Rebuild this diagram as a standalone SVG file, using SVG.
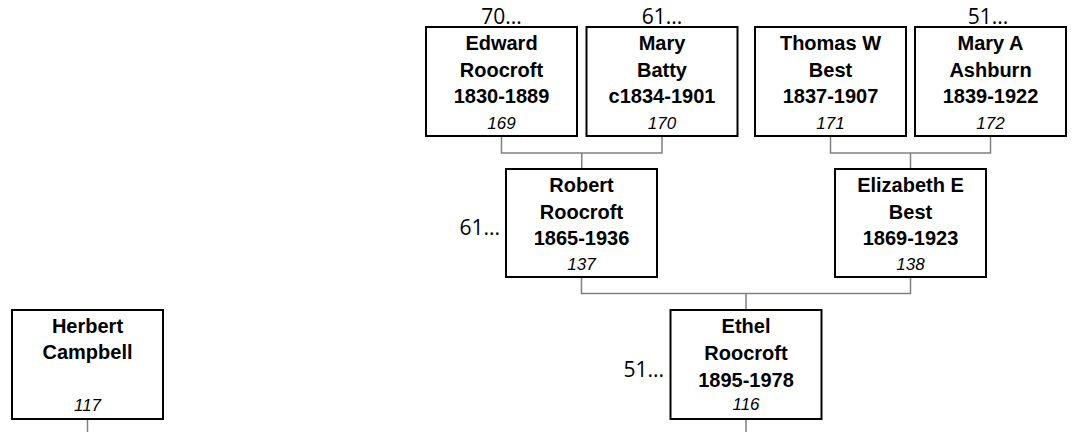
<svg xmlns="http://www.w3.org/2000/svg" width="1073" height="432" viewBox="0 0 1073 432">
<style>
.box{fill:#fff;stroke:#000;stroke-width:2}
.nm{font-family:"Liberation Sans",Arial,sans-serif;font-weight:bold;font-size:20px;text-anchor:middle;fill:#000}
.id{font-family:"Liberation Sans",Arial,sans-serif;font-style:italic;font-size:17px;text-anchor:middle;fill:#000}
.more{font-family:"Open Sans","Liberation Sans",sans-serif;font-size:21px;fill:#000}
.conn{fill:none;stroke:#808080;stroke-width:1.5}
</style>
<rect width="1073" height="432" fill="#fff"/>
<g id="connectors" class="conn">
<path d="M501.5 136V153H662V136M581.75 153V169"/>
<path d="M830.5 136V153H990.5V136M910.5 153V169"/>
<path d="M581.5 277V293.5H910.5V277M746 293.5V310"/>
<path d="M746 419V432"/>
<path d="M87.5 419V432"/>
</g>
<g id="n169">
<rect class="box" x="426" y="27" width="151" height="109"/>
<text class="more" x="501.5" y="24" text-anchor="middle">70...</text>
<text class="nm" x="501.5" y="50">Edward</text>
<text class="nm" x="501.5" y="77">Roocroft</text>
<text class="nm" x="501.5" y="103">1830-1889</text>
<text class="id" x="501.5" y="128.5">169</text>
</g>
<g id="n170">
<rect class="box" x="586.5" y="27" width="151" height="109"/>
<text class="more" x="662" y="24" text-anchor="middle">61...</text>
<text class="nm" x="662" y="50">Mary</text>
<text class="nm" x="662" y="77">Batty</text>
<text class="nm" x="662" y="103">c1834-1901</text>
<text class="id" x="662" y="128.5">170</text>
</g>
<g id="n171">
<rect class="box" x="755" y="27" width="151" height="109"/>
<text class="nm" x="830.5" y="50">Thomas W</text>
<text class="nm" x="830.5" y="77">Best</text>
<text class="nm" x="830.5" y="103">1837-1907</text>
<text class="id" x="830.5" y="128.5">171</text>
</g>
<g id="n172">
<rect class="box" x="915" y="27" width="151" height="109"/>
<text class="more" x="988" y="24" text-anchor="middle">51...</text>
<text class="nm" x="990.5" y="50">Mary A</text>
<text class="nm" x="990.5" y="77">Ashburn</text>
<text class="nm" x="990.5" y="103">1839-1922</text>
<text class="id" x="990.5" y="128.5">172</text>
</g>
<g id="n137">
<rect class="box" x="506" y="169" width="151" height="108"/>
<text class="more" x="500" y="235" text-anchor="end">61...</text>
<text class="nm" x="581.5" y="192">Robert</text>
<text class="nm" x="581.5" y="218.5">Roocroft</text>
<text class="nm" x="581.5" y="244.5">1865-1936</text>
<text class="id" x="581.5" y="269.5">137</text>
</g>
<g id="n138">
<rect class="box" x="835" y="169" width="151" height="108"/>
<text class="nm" x="910.5" y="192">Elizabeth E</text>
<text class="nm" x="910.5" y="218.5">Best</text>
<text class="nm" x="910.5" y="244.5">1869-1923</text>
<text class="id" x="910.5" y="269.5">138</text>
</g>
<g id="n116">
<rect class="box" x="670.5" y="310" width="151" height="109"/>
<text class="more" x="664" y="377" text-anchor="end">51...</text>
<text class="nm" x="746" y="333">Ethel</text>
<text class="nm" x="746" y="360">Roocroft</text>
<text class="nm" x="746" y="386.5">1895-1978</text>
<text class="id" x="746" y="410">116</text>
</g>
<g id="n117">
<rect class="box" x="12" y="310" width="151" height="109"/>
<text class="nm" x="87.5" y="332.5">Herbert</text>
<text class="nm" x="87.5" y="359">Campbell</text>
<text class="id" x="87.5" y="410.5">117</text>
</g>
</svg>
